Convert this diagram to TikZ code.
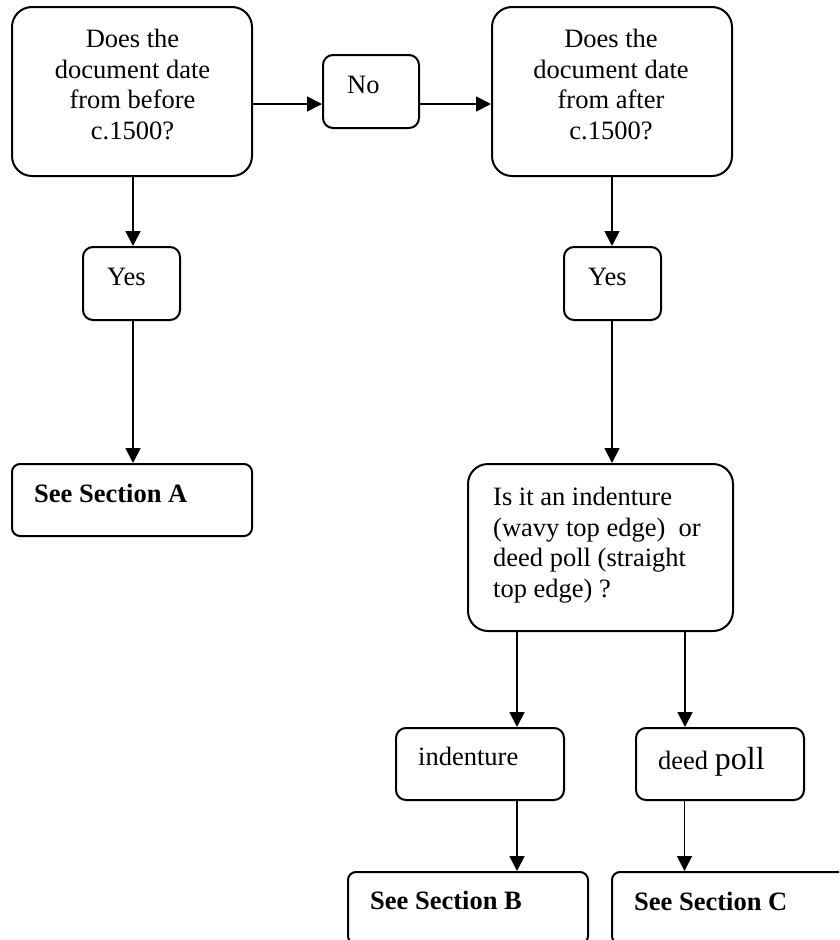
\documentclass[tikz,border=0pt]{standalone}
\usepackage{fontspec}
\setmainfont{Liberation Serif}
\usetikzlibrary{arrows.meta}
\begin{document}
\begin{tikzpicture}[x=1pt,y=-1pt,
  box/.style={draw=black,line width=2pt,rectangle,inner sep=0pt},
  bigbox/.style={box,rounded corners=20pt},
  smallbox/.style={box,rounded corners=10pt},
  secbox/.style={box,rounded corners=8pt},
  arr/.style={line width=1.8pt,-{Triangle[length=15pt,width=15pt]}},
  txt/.style={inner sep=0pt,font=\fontsize{26.5}{30.5}\selectfont},
  btxt/.style={txt,font=\fontsize{26.5}{30.5}\selectfont\bfseries}]
\useasboundingbox (0,0) rectangle (839,940);
\clip (0,0) rectangle (839,940);
% boxes
\node[bigbox,minimum width=240pt,minimum height=169pt] (b1) at (132,91.5) {};
\node[smallbox,minimum width=96pt,minimum height=73pt] (no) at (371,91.5) {};
\node[bigbox,minimum width=240pt,minimum height=169pt] (b2) at (612,91.5) {};
\node[smallbox,minimum width=97pt,minimum height=73pt] (y1) at (131.5,283.5) {};
\node[smallbox,minimum width=97pt,minimum height=73pt] (y2) at (612.5,283.5) {};
\node[secbox,minimum width=240pt,minimum height=72pt] (sa) at (132,500) {};
\node[bigbox,minimum width=265pt,minimum height=167pt] (q) at (600.5,547.5) {};
\node[smallbox,minimum width=168pt,minimum height=72pt] (ind) at (480,764) {};
\node[smallbox,minimum width=168pt,minimum height=72pt] (dp) at (720,764) {};
\node[secbox,minimum width=240pt,minimum height=72pt] (sb) at (468,908) {};
\node[secbox,minimum width=240pt,minimum height=72pt] (sc) at (732,908) {};
% texts
\node[txt,align=center,anchor=north] (t1) at (132.5,29) {Does the\\document date\\from before\\c.1500?};
\node[txt,align=center,anchor=north] (t2) at (611,29) {Does the\\document date\\from after\\c.1500?};
\node[txt,anchor=base west] (tno) at (347,93) {No};
\node[txt,anchor=base west] (ty1) at (107,285) {Yes};
\node[txt,anchor=base west] (ty2) at (588,285) {Yes};
\node[btxt,anchor=base west] (tsa) at (34,502) {See Section A};
\node[txt,align=left,anchor=north west] (tq) at (493,487) {Is it an indenture\\(wavy top edge)~~or\\deed poll (straight\\top edge) ?};
\node[txt,anchor=base west] (tind) at (418,765) {indenture};
\node[txt,anchor=base west] (tdp) at (658,769) {deed {\fontsize{32}{36}\selectfont poll}};
\node[btxt,anchor=base west] (tsb) at (370,909) {See Section B};
\node[btxt,anchor=base west] (tsc) at (634,910) {See Section C};
% connectors
\draw[arr] ([yshift=-12.5pt]b1.east) -- ([yshift=-12.5pt]no.west);
\draw[arr] ([yshift=-12.5pt]no.east) -- ([yshift=-12.5pt]b2.west);
\draw[arr] ([xshift=1pt]b1.south) -- ([xshift=1pt]b1.south |- y1.north);
\draw[arr] ([xshift=1.5pt]y1.south) -- ([xshift=1.5pt]y1.south |- sa.north);
\draw[arr] (b2.south) -- (b2.south |- y2.north);
\draw[arr] ([xshift=-0.5pt]y2.south) -- ([xshift=-0.5pt]y2.south |- q.north);
\draw[arr] ([xshift=-83.5pt]q.south) -- ([xshift=-83.5pt]q.south |- ind.north);
\draw[arr] ([xshift=84.5pt]q.south) -- ([xshift=84.5pt]q.south |- dp.north);
\draw[arr] ([xshift=37pt]ind.south) -- ([xshift=37pt]ind.south |- sb.north);
\draw[arr] ([xshift=-35.5pt]dp.south) -- ([xshift=-35.5pt]dp.south |- sc.north);
\end{tikzpicture}
\end{document}
